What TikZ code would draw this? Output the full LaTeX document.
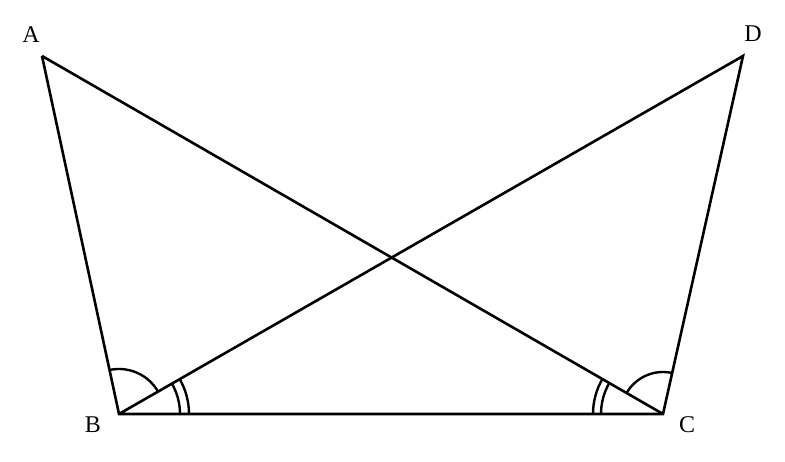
\documentclass[tikz,border=0pt]{standalone}
\usepackage{fontspec}
\setmainfont{Liberation Serif}
\begin{document}
\begin{tikzpicture}[x=1pt,y=1pt,
  edge/.style={line width=2.6pt, line join=miter},
  anglemark/.style={line width=2.4pt},
  lbl/.style={font=\fontsize{24}{24}\selectfont, inner sep=0pt}]
\useasboundingbox (0,0) rectangle (785,462);
\coordinate (A) at (42,406);
\coordinate (D) at (743,406);
\coordinate (B) at (119,48);
\coordinate (C) at (663,48);
\node[lbl] (lA) at (31,427) {A};
\node[lbl] (lD) at (753,428) {D};
\node[lbl] (lB) at (93,37) {B};
\node[lbl] (lC) at (687,37) {C};
\draw[edge] (A) -- (B) -- (C) -- (D) -- (B);
\draw[edge] (A) -- (C);
% angle marks at B
\draw[anglemark] ([shift={(29.85:45)}]B) arc[start angle=29.85, end angle=102.14, radius=45];
\draw[anglemark] ([shift={(0:61)}]B) arc[start angle=0, end angle=29.85, radius=61];
\draw[anglemark] ([shift={(0:70)}]B) arc[start angle=0, end angle=29.85, radius=70];
% angle marks at C
\draw[anglemark] ([shift={(77.40:42)}]C) arc[start angle=77.40, end angle=150.04, radius=42];
\draw[anglemark] ([shift={(150.04:62)}]C) arc[start angle=150.04, end angle=180, radius=62];
\draw[anglemark] ([shift={(150.04:70)}]C) arc[start angle=150.04, end angle=180, radius=70];
\end{tikzpicture}
\end{document}
